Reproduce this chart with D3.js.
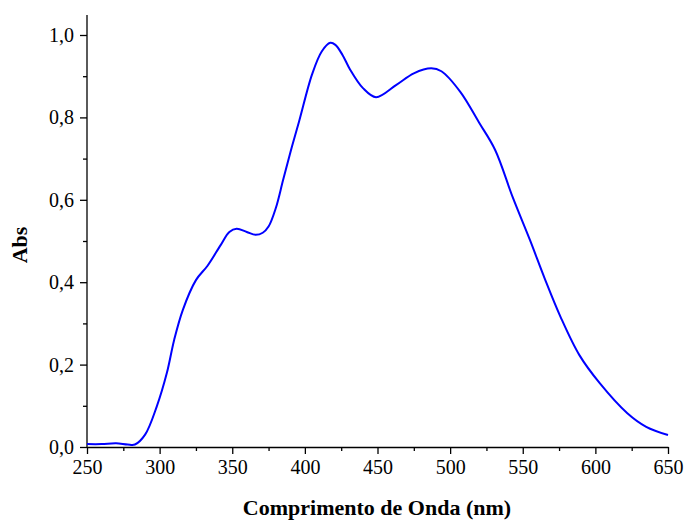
<!DOCTYPE html>
<html>
<head>
<meta charset="utf-8">
<script src="https://cdn.jsdelivr.net/npm/d3@7"></script>
<style>
  body { margin: 0; background: #fff; }
</style>
</head>
<body>
<svg id="chart" width="687" height="520"></svg>
<script>
// wavelength (nm) and absorbance
let wavelength = [250, 260, 270, 278, 283, 290, 298, 305, 310, 316, 325, 333, 342, 348, 353, 360, 366, 371, 375, 380,
                  385, 390, 396, 405, 411.6, 417.5, 421, 426, 431, 440, 449, 463, 475, 487, 494, 507, 520, 531, 543, 555,
                  565, 576, 589, 603, 622, 635, 650];
let absorbance = [0.007, 0.007, 0.009, 0.006, 0.006, 0.03, 0.098, 0.18, 0.26, 0.333, 0.405, 0.44, 0.49, 0.522, 0.53, 0.522, 0.515, 0.52, 0.535, 0.58,
                  0.648, 0.715, 0.79, 0.905, 0.96, 0.981, 0.976, 0.951, 0.917, 0.871, 0.849, 0.879, 0.907, 0.919, 0.912, 0.862, 0.787, 0.721, 0.607, 0.502,
                  0.41, 0.316, 0.223, 0.155, 0.082, 0.049, 0.029];

let xTicks = [250, 300, 350, 400, 450, 500, 550, 600, 650];
let yTicks = [0, 0.2, 0.4, 0.6, 0.8, 1.0];

let data = wavelength.map((w, i) => ({x: w, y: absorbance[i]}));

let svg = d3.select("#chart");
let mLeft = 87, mRight = 668, mTop = 15, mBottom = 447;
let serif = "'Liberation Serif', 'Times New Roman', serif";

let xScale = d3.scaleLinear().domain([250, 650]).range([mLeft, mRight]);
// 1,0 sits at y=35, axis line runs on up to mTop
let yScale = d3.scaleLinear().domain([0, 1.0]).range([mBottom, 35]);

let fmt = d => d3.format(".1f")(d).replace(".", ",");

// minor ticks first
let xMinor = d3.range(275, 650, 50);
svg.append("g").attr("transform", "translate(0," + mBottom + ")")
   .call(d3.axisBottom(xScale).tickValues(xMinor).tickSize(4).tickFormat(""))
   .call(g => g.select(".domain").remove());
let yMinor = [0.1, 0.3, 0.5, 0.7, 0.9];
svg.append("g").attr("transform", "translate(" + mLeft + ",0)")
   .call(d3.axisLeft(yScale).tickValues(yMinor).tickSize(4).tickFormat(""))
   .call(g => g.select(".domain").remove());

let xAxis = svg.append("g").attr("transform", "translate(0," + mBottom + ")")
   .call(d3.axisBottom(xScale).tickValues(xTicks).tickSize(7).tickSizeOuter(0).tickPadding(6));
let yAxis = svg.append("g").attr("transform", "translate(" + mLeft + ",0)")
   .call(d3.axisLeft(yScale).tickValues(yTicks).tickSize(7).tickSizeOuter(0).tickPadding(6).tickFormat(fmt));

// extend y axis line up to the top
yAxis.select(".domain").attr("d", "M0," + mBottom + "V" + mTop);

svg.selectAll("g").attr("font-family", serif);
svg.selectAll(".tick line").attr("stroke", "#000").attr("stroke-width", 1.3);
svg.selectAll(".domain").attr("stroke", "#000").attr("stroke-width", 1.3);
svg.selectAll(".tick text").attr("font-size", 20).attr("fill", "#000");

svg.append("path")
   .datum(data)
   .attr("fill", "none")
   .attr("stroke", "#0000ff")
   .attr("stroke-width", 2)
   .attr("d", d3.line().x(d => xScale(d.x)).y(d => yScale(d.y)).curve(d3.curveCatmullRom.alpha(0.5)));

svg.append("text")
   .attr("x", 377)
   .attr("y", 515)
   .attr("text-anchor", "middle")
   .attr("font-family", serif)
   .attr("font-size", 22)
   .attr("font-weight", "bold")
   .text("Comprimento de Onda (nm)");

svg.append("text")
   .attr("transform", "translate(27,245) rotate(-90)")
   .attr("text-anchor", "middle")
   .attr("font-family", serif)
   .attr("font-size", 22)
   .attr("font-weight", "bold")
   .text("Abs");
</script>
</body>
</html>
